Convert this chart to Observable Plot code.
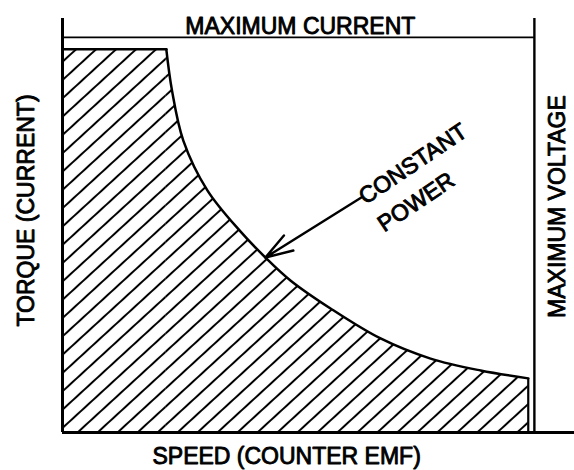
<!DOCTYPE html>
<html><head><meta charset="utf-8">
<script src="https://cdn.jsdelivr.net/npm/d3@7"></script>
<script src="https://cdn.jsdelivr.net/npm/@observablehq/plot@0.6"></script>
<style>body{margin:0;background:#fff}</style>
</head><body><div id="chart"></div>
<script>
// Operating envelope (arbitrary units: max voltage speed = 100, max current torque = 100)
const speedFlat = [0, 22];
const torqueFlat = [97, 97];
const speedCurve = [22, 23.2, 25.6, 30.7, 37.7, 43, 48.3, 56.8, 67.4, 78, 88.6, 98.7];
const torqueCurve = [97, 86.6, 73.9, 61.3, 50.9, 44.3, 38.5, 31.4, 23.8, 18.7, 15.7, 13.7];
const maxCurrent = 100;
const maxVoltage = 100;
const speedMax = 108.5;
const torqueMax = 104.8;
const arrowSpeed = [63.5, 43.0];
const arrowTorque = [59.6, 44.3];
const labels = ["MAXIMUM CURRENT", "SPEED (COUNTER EMF)", "TORQUE (CURRENT)", "MAXIMUM VOLTAGE", "CONSTANT", "POWER"];

const flat = speedFlat.map((s, i) => ({speed: s, torque: torqueFlat[i]}));
const curve = speedCurve.map((s, i) => ({speed: s, torque: torqueCurve[i]}));
const end = [curve[curve.length - 1]];
const font = "'Liberation Sans', Arial, Helvetica, sans-serif";
const txt = {text: d => d, fill: "black", stroke: "black", strokeWidth: 0.9, fontSize: 23, fontFamily: font};

const chart = Plot.plot({
  width: 574, height: 470,
  marginLeft: 62, marginRight: 0, marginTop: 18, marginBottom: 38,
  x: {domain: [0, speedMax], axis: null},
  y: {domain: [0, torqueMax], axis: null},
  style: {fontFamily: font, background: "white", color: "black", overflow: "visible"},
  marks: [
    Plot.areaY(flat, {x: "speed", y: "torque", fill: "url(#hatch)"}),
    Plot.areaY(curve, {x: "speed", y: "torque", fill: "url(#hatch)", curve: "catmull-rom"}),
    Plot.lineY(flat, {x: "speed", y: "torque", stroke: "black", strokeWidth: 2.5}),
    Plot.lineY(curve, {x: "speed", y: "torque", stroke: "black", strokeWidth: 2.5, curve: "catmull-rom"}),
    Plot.ruleX(end, {x: "speed", y1: 0, y2: "torque", stroke: "black", strokeWidth: 2.2}),
    Plot.ruleY([maxCurrent], {x1: 0, x2: maxVoltage, stroke: "black", strokeWidth: 1.8}),
    Plot.ruleX([maxVoltage], {y1: 0, y2: torqueMax, stroke: "black", strokeWidth: 2.4}),
    Plot.ruleX([0], {y1: 0, y2: torqueMax, stroke: "black", strokeWidth: 3}),
    Plot.ruleY([0], {x1: 0, x2: speedMax, stroke: "black", strokeWidth: 3}),
    Plot.arrow([0], {x1: () => arrowSpeed[0], y1: () => arrowTorque[0], x2: () => arrowSpeed[1], y2: () => arrowTorque[1],
      stroke: "black", strokeWidth: 2.4, headLength: 18, headAngle: 36, inset: 0}),
    Plot.text([labels[0]], {...txt, x: 50.4, y: maxCurrent, dy: -3, lineAnchor: "bottom"}),
    Plot.text([labels[1]], {...txt, x: 47.5, y: 0, dy: 15, lineAnchor: "top"}),
    Plot.text([labels[2]], {...txt, x: -7.6, y: 56.2, rotate: -90, lineAnchor: "middle"}),
    Plot.text([labels[3]], {...txt, x: 105.0, y: 57.2, rotate: -90, lineAnchor: "middle"}),
    Plot.text([labels[4]], {...txt, x: 64.2, y: 57.6, rotate: -34, textAnchor: "start", lineAnchor: "bottom"}),
    Plot.text([labels[5]], {...txt, x: 68.2, y: 50.6, rotate: -34, textAnchor: "start", lineAnchor: "bottom"})
  ]
});

const svg = d3.select(chart);
const defs = svg.insert("defs", ":first-child");
const pat = defs.append("pattern")
  .attr("id", "hatch")
  .attr("patternUnits", "userSpaceOnUse")
  .attr("width", 13.5).attr("height", 13.5)
  .attr("patternTransform", "rotate(47.5)");
pat.append("line")
  .attr("x1", 6.75).attr("y1", -1).attr("x2", 6.75).attr("y2", 14.5)
  .attr("stroke", "black").attr("stroke-width", 2);

document.getElementById("chart").append(chart);
</script>
</body></html>
